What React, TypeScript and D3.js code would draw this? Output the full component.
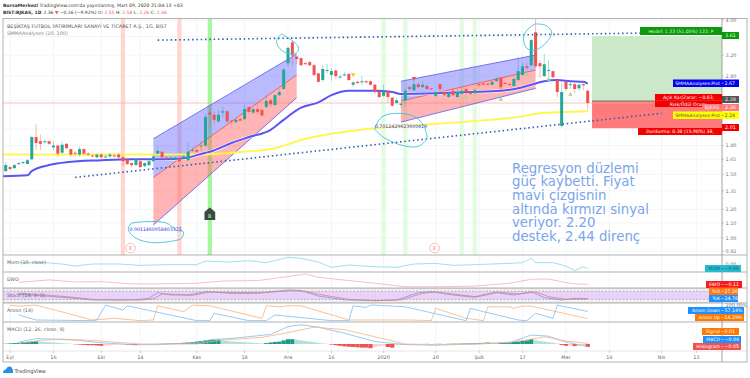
import React from "react";
import * as d3 from "d3";

// ---------- candles (bar index = array position) ----------
const opens = [1.53,1.57,1.56,1.60,1.61,1.60,1.65,1.90,1.85,1.84,1.85,1.78,1.80,1.72,1.82,1.76,1.72,1.70,1.76,1.71,1.69,1.67,1.70,1.67,1.68,1.69,1.70,1.67,1.65,1.61,1.59,1.63,1.58,1.59,1.63,1.71,1.73,1.67,1.65,1.65,1.66,1.66,1.64,1.74,1.75,1.79,1.80,2.22,2.19,2.10,2.22,2.24,2.11,2.09,2.13,2.13,2.30,2.22,2.27,2.26,2.30,2.40,2.33,2.48,2.58,3.04,3.47,3.17,3.14,3.04,3.06,3.00,2.85,2.73,2.90,2.82,2.90,2.78,2.82,2.84,2.65,2.70,2.70,2.71,2.71,2.65,2.53,2.47,2.55,2.44,2.36,2.33,2.40,2.61,2.56,2.66,2.61,2.63,2.59,2.47,2.63,2.53,2.45,2.55,2.45,2.50,2.58,2.53,2.51,2.66,2.67,2.67,2.65,2.71,2.77,2.68,2.66,2.63,2.73,2.82,2.98,3.00,3.70,3.04,2.80,2.90,2.89,2.73,2.04,2.70,2.65,2.66,2.59,2.66,2.55];
const closes = [1.59,1.55,1.59,1.61,1.62,1.64,1.90,1.83,1.82,1.85,1.82,1.80,1.71,1.81,1.77,1.70,1.71,1.76,1.71,1.70,1.685,1.70,1.67,1.68,1.70,1.68,1.67,1.63,1.60,1.59,1.65,1.57,1.61,1.63,1.68,1.74,1.67,1.65,1.67,1.67,1.63,1.68,1.73,1.75,1.73,1.80,2.16,2.19,2.12,2.19,2.24,2.10,2.10,2.12,2.11,2.27,2.23,2.27,2.23,2.18,2.39,2.34,2.48,2.53,2.92,3.35,3.19,3.12,3.00,3.03,3.00,2.82,2.70,2.93,2.91,2.89,2.80,2.79,2.83,2.73,2.69,2.68,2.71,2.69,2.65,2.53,2.45,2.55,2.45,2.32,2.40,2.35,2.55,2.58,2.66,2.61,2.65,2.58,2.58,2.53,2.58,2.48,2.51,2.48,2.53,2.55,2.53,2.50,2.56,2.64,2.65,2.65,2.70,2.75,2.61,2.67,2.65,2.75,2.89,2.98,2.95,3.52,2.98,2.98,3.02,2.91,2.78,2.53,2.53,2.58,2.66,2.58,2.65,2.64,2.36];
const highs = [1.62,1.58,1.60,1.62,1.63,1.65,1.92,2.06,1.93,1.87,1.86,1.85,1.81,1.85,1.83,1.76,1.74,1.79,1.77,1.73,1.70,1.71,1.71,1.70,1.72,1.71,1.72,1.70,1.66,1.62,1.66,1.64,1.62,1.64,1.70,1.79,1.74,1.68,1.68,1.68,1.67,1.70,1.84,1.78,1.77,1.85,2.20,2.33,2.24,2.26,2.30,2.25,2.12,2.14,2.15,2.33,2.31,2.29,2.35,2.27,2.48,2.42,2.50,2.58,2.95,3.38,3.52,3.18,3.15,3.06,3.08,3.02,2.86,3.00,3.03,2.95,2.92,2.83,2.87,2.85,2.71,2.72,2.80,2.73,2.72,2.66,2.54,2.65,2.56,2.45,2.44,2.36,2.60,2.63,2.72,2.68,2.72,2.65,2.60,2.55,2.64,2.54,2.53,2.58,2.58,2.60,2.60,2.54,2.58,2.67,2.69,2.68,2.72,2.78,2.78,2.70,2.68,2.78,3.16,3.05,3.05,3.54,4.05,3.10,3.22,3.10,2.90,2.75,2.68,2.71,2.70,2.68,2.66,2.67,2.58];
const lows = [1.52,1.54,1.55,1.59,1.60,1.60,1.64,1.75,1.75,1.82,1.81,1.75,1.68,1.71,1.76,1.67,1.68,1.68,1.70,1.68,1.67,1.66,1.65,1.66,1.67,1.67,1.66,1.58,1.59,1.57,1.58,1.56,1.57,1.58,1.62,1.70,1.66,1.64,1.64,1.64,1.62,1.65,1.63,1.73,1.72,1.74,1.78,2.00,2.06,2.08,2.15,2.08,2.05,2.07,2.10,2.12,2.20,2.20,2.20,2.16,2.28,2.30,2.31,2.47,2.57,2.98,3.00,3.02,2.98,3.00,2.98,2.80,2.69,2.70,2.85,2.72,2.74,2.76,2.80,2.72,2.62,2.66,2.65,2.68,2.64,2.50,2.43,2.45,2.36,2.30,2.34,2.29,2.30,2.55,2.54,2.59,2.60,2.56,2.56,2.45,2.53,2.47,2.44,2.47,2.44,2.49,2.48,2.48,2.50,2.62,2.64,2.64,2.64,2.70,2.53,2.65,2.64,2.61,2.71,2.80,2.92,2.98,2.95,2.77,2.78,2.78,2.76,2.45,2.02,2.55,2.58,2.51,2.55,2.56,2.26];

// ---------- SMMA lines ----------
const blueBars = [-1,5,6,10,14,22,29,36,41,46,47,52,56,61,64,68,72,75,79,85,89,91,99,107,114,118,121,124,127,130,133,134];
const blueVals = [1.48,1.49,1.53,1.59,1.62,1.64,1.65,1.65,1.66,1.72,1.73,1.83,1.90,1.99,2.12,2.29,2.37,2.48,2.55,2.55,2.53,2.50,2.51,2.53,2.55,2.59,2.65,2.71,2.73,2.71,2.70,2.67];
const yellowBars = [-1,29,45,52,62,69,75,85,95,107,118,123,134];
const yellowVals = [1.70,1.70,1.70,1.72,1.77,1.88,1.94,2.01,2.05,2.10,2.16,2.21,2.24];

// ---------- regression channels: first bar, last bar, then [left,right] prices ----------
const channelBars = [[34,67],[91,122]];
const channelTop = [[1.88,3.22],[2.71,3.20]];
const channelMid = [[1.47,2.82],[2.39,2.91]];
const channelBottom = [[1.086,2.44],[2.09,2.59]];

// ---------- trendlines ----------
const topTrendBars = [35,146];
const topTrendVals = [3.52,3.68];
const lowTrendBars = [16,151];
const lowTrendVals = [1.47,2.21];

// ---------- freehand loops ----------
const loopABars = [63.5,65.5,67.4,67,64.7,62.8,62.4,63.5];
const loopAVals = [3.66,3.54,3.37,3.25,3.24,3.37,3.52,3.66];
const loopBBars = [29,32.5,37,39.4,40.9,40.5,37,32.5,29.4,28.2,29];
const loopBVals = [1.10,1.11,1.10,1.05,1.04,1.0,0.975,0.975,1.01,1.06,1.10];
const loopCBars = [84.9,87.2,91.5,94.9,97,96.6,96.6,94.3,90.3,86.6,84.9];
const loopCVals = [2.0,1.89,1.80,1.79,1.89,1.99,2.01,2.16,2.21,2.16,2.0];
const loopDBars = [121.9,124.2,125.7,124.6,121.9,120,119.2,120,121.9];
const loopDVals = [3.90,3.87,3.71,3.48,3.30,3.34,3.56,3.75,3.90];

// ---------- background signal bands ----------
const redBands = [27,40];
const strongGreenBands = [47];
const paleGreenBands = [87,92,105,108];

// ---------- triangles ----------
const upMarkBars = [106,114,120,125,130];
const upMarkVals = [2.45,2.42,2.84,2.75,2.50];
const downRedBars = [94,100];
const downRedVals = [2.75,2.63];
const downYellowBars = [80];
const downYellowVals = [2.82];

// ---------- axes ----------
const priceGrid = [4,3.6,3.2,2.8,2.4,2.0,1.8,1.65,1.5,1.35,1.2,1.1,1,0.92];
const priceTicks = ["4.00","3.20","2.80","1.80","1.65","1.50","1.35","1.20","1.10","1.00","0.92"];
const timeBars = [1,11,22,31,44,55,65,75,87,99,109,119,129,139,151,159];
const timeLabels = ["Eyl","16","Eki","14","Kas","18","Ara","16","2020","20","Şub","17","Mar","16","Nis","13"];

// ---------- sub panes ----------
const momBars = [-1,3,9,13,16,20,26,31,37,44,46,51,56,60,65,68,72,75,79,85,90,94,99,103,108,116,119,121,122,126,129,131,133,134];
const momVals = [.19,.19,.19,0,-.28,0,0,-.19,-.09,-.09,.42,.28,.47,.19,.94,.8,.28,-.47,-.14,-.38,-.47,0,.09,-.19,-.09,.09,.19,.8,.19,.19,-.28,-.94,-.38,-.66];
const ewoBars = [-1,3,10,16,22,29,35,44,50,58,65,69,72,79,85,92,100,108,116,121,125,129,131,134];
const ewoVals = [-.02,-.02,.09,0,.01,-.09,-.09,-.06,.04,.06,.24,.36,.21,.06,-.06,-.22,-.22,-.19,-.06,.12,.13,-.03,-.09,-.11];
const kBars = [-1,3,9,14,20,26,31,33,35,38,42,46,52,58,65,68,72,78,85,90,95,98,103,108,113,117,121,124,128,131,134];
const kVals = [64,57,45.7,34,18,18,22.4,29.4,68.5,52.4,52.4,75.4,64,64,87,82.6,45.7,18,13.4,18,68.5,75.4,52.4,36.5,68.5,52.4,75.4,34,18,29.4,24.76];
const dBars = [-1,3,9,14,20,26,31,34,36,39,43,47,53,59,66,69,73,79,85,91,96,99,103,108,113,118,122,125,129,132,134];
const dVals = [68.5,64,52.4,41,22.4,18,18,25,59.3,57,50,73,68.5,68.5,82.6,78,52.4,22.4,13.4,18,64,73,59.3,41,73,59.3,73,41,22.4,25,27.2];
const upBars = [-1,1,3,7,20,25,31,34,35,41,43,47,59,60,63,65,68,79,85,88,93,98,99,106,110,111,116,117,119,121,134];
const upVals = [91,95,89,95,6,16,2,6,91,56,95,91,16,91,85,91,91,6,6,6,6,2,76,16,2,85,85,76,89,89,14.29];
const downBars = [-1,3,7,20,21,23,27,28,44,47,48,56,60,62,75,79,80,83,84,85,92,106,107,110,118,120,122,126,127,134];
const downVals = [46,36,6,2,6,95,66,91,2,2,46,2,2,36,2,2,91,81,95,95,85,2,76,56,6,2,46,16,95,57.14];
const macdBars = [-1,3,7,12,17,22,29,35,44,47,53,61,65,68,72,78,85,92,99,108,116,121,125,129,134];
const macdVals = [0,.03,.09,.08,.06,.02,-.01,-.01,.02,.07,.10,.16,.29,.32,.28,.18,.04,-.01,-.02,0,.02,.15,.13,.03,-.04];
const signalBars = [-1,3,8,13,20,25,31,37,44,49,59,65,71,78,85,92,99,108,116,121,124,129,134];
const signalVals = [0,.01,.06,.08,.06,.03,0,0,0,.06,.11,.19,.28,.24,.12,0,-.01,0,.03,.08,.12,.05,.01];
const histVals = [.5,1,1.5,2,3,3.5,4,4.5,4,3.5,3,2.5,2,1.5,1,.5,-.5,-1,-1.5,-2,-2,-2.5,-3,-2.5,-2,-1.5,-1,-.5,-1,-1.5,-2,-1.5,-1,-.5,-.3,.2,.4,.6,.8,1,1.5,2,2.5,3,4,5,6,6.5,7,7.5,6,5,4.5,4,3.5,3,2.5,2,1.5,1,1.5,2.5,3.5,4,6,8,8,7,6,5,4,3,2,1,.5,-1,-2,-3,-4,-4.5,-5,-5.5,-6,-6,-7,-5,-4,-3,-5,-6,-2,-1.5,-1,-.7,-.5,-.3,-.2,.2,-.2,.2,.3,-.3,.3,.5,.5,.7,.8,1,1.2,1.5,2,2.5,2,1.5,2,2.5,3,3.5,4,5,6,8,6,5,4,3,2,1,-1.5,-3,-2.5,-3.5,-3,-2.5,-5];

// ---------- text ----------
const headerAuthor = "BorsaMerkezi";
const headerRest = " TradingView.com'da yayınlanmış, Mart 09, 2020 21:04:13 +03";
const titleText = "BEŞİKTAŞ FUTBOL YATIRIMLARI SANAYİ VE TİCARET A.Ş., 1G, BIST";
const noteLines = ["Regresyon düzlemi","güç kaybetti. Fiyat","mavi çizgisnin","altında kırmızı sinyal","veriyor. 2.20","destek, 2.44 direnç"];

const W = 750, H = 378;
const L = 3, R = 722, RR = 747, TOP = 18.5, BOT = 362;
const FONT = "'DejaVu Sans', sans-serif";
const RED = "#ef5350", GREEN = "#26a69a";

const x = d3.scaleLinear().domain([0, 134]).range([5.7, 587.7]);
const y = d3.scaleLog().domain([1, 4]).range([238, 20]);

const zip = (a: number[], b: number[]) => a.map((v, i) => [v, b[i]] as [number, number]);
const pricePath = (bars: number[], vals: number[], curve: any = d3.curveLinear) =>
  d3.line<[number, number]>().x(d => x(d[0])).y(d => y(d[1])).curve(curve)(zip(bars, vals)) || "";

const paneMom = d3.scaleLinear().domain([-1, 1.3]).range([271.1, 254.8]);
const paneEwo = d3.scaleLinear().domain([-.3, .5]).range([288.5, 270.9]);
const paneStoch = d3.scaleLinear().domain([0, 100]).range([302.6, 288.1]);
const paneAroon = d3.scaleLinear().domain([0, 100]).range([321, 304.3]);
const paneMacd = d3.scaleLinear().domain([-.1, .35]).range([350, 323]);
const sub = (bars: number[], vals: number[], s: any) =>
  d3.line<[number, number]>().x(d => x(d[0])).y(d => s(d[1])).defined(d => x(d[0]) >= L)(zip(bars, vals)) || "";

const sep = [255, 272, 288, 303, 322, 351];

function Box({ x0, x1, y0, y1, fill, text, color = "#fff", size = 4.9, anchor = "middle" }: any) {
  return (
    <g>
      <rect x={x0} y={y0} width={x1 - x0} height={y1 - y0} fill={fill} />
      <text x={anchor === "middle" ? (x0 + x1) / 2 : x0 + 2} y={(y0 + y1) / 2 + 1.8} fontSize={size} fill={color} textAnchor={anchor}>{text}</text>
    </g>
  );
}

function Label({ x0, x1, y0, y1, fill, name, val, color = "#fff" }: any) {
  return (
    <g>
      <rect x={x0} y={y0} width={x1 - x0} height={y1 - y0} fill={fill} />
      <text x={720} y={y0 + 5.4} fontSize={4.6} fill={color} textAnchor="end">{name}</text>
      <line x1={721.5} x2={723.5} y1={(y0 + y1) / 2} y2={(y0 + y1) / 2} stroke={color} strokeWidth={.5} />
      <text x={724.5} y={y0 + 5.4} fontSize={4.7} fill={color}>{val}</text>
    </g>
  );
}

export default function App() {
  const histBase = paneMacd(0);
  const bars = opens.map((o, i) => ({ i, o, c: closes[i], h: highs[i], l: lows[i] }));
  const slot = x(1) - x(0);
  const tri = (cx: number, cy: number, up: boolean) => {
    const s = up ? -1 : 1;
    return `M${cx - 2.2},${cy - s * 1.8}L${cx + 2.2},${cy - s * 1.8}L${cx},${cy + s * 2}Z`;
  };
  return (
    <svg width={W} height={H} viewBox={`0 0 ${W} ${H}`} style={{ position: "absolute", left: 0, top: 0, background: "#fff" }} fontFamily={FONT}>
      <defs>
        <clipPath id="main"><rect x={L} y={TOP} width={R - L} height={255 - TOP} /></clipPath>
      </defs>

      {/* header */}
      <text x={3} y={7} fontSize={4.6} fill="#333"><tspan fontWeight="bold">{headerAuthor}</tspan>{headerRest}</text>
      <text x={3} y={14} fontSize={4.5} fill="#333">
        <tspan fontWeight="bold">BIST:BJKAS, 1D</tspan>
        <tspan dx={2}>2.36 </tspan>
        <tspan fill={RED}>▼ </tspan>
        <tspan>−0.26 (−9.92%) O: </tspan><tspan fill={RED}>2.55</tspan>
        <tspan> H: </tspan><tspan fill={RED}>2.58</tspan>
        <tspan> L: </tspan><tspan fill={RED}>2.26</tspan>
        <tspan> C: </tspan><tspan fill={RED}>2.36</tspan>
      </text>

      {/* grids */}
      {priceGrid.map(p => <line key={p} x1={L} x2={R} y1={y(p)} y2={y(p)} stroke="#edf2f7" strokeWidth={.8} />)}
      {timeBars.map(b => <line key={b} x1={x(b)} x2={x(b)} y1={TOP} y2={351} stroke="#edf2f7" strokeWidth={.8} />)}

      {/* signal bands */}
      <g clipPath="url(#main)">
        {redBands.map(b => <rect key={b} x={x(b) - slot / 2} y={TOP} width={slot} height={255 - TOP} fill="#ffd6d0" />)}
        {strongGreenBands.map(b => <rect key={b} x={x(b) - slot / 2} y={TOP} width={slot} height={255 - TOP} fill="#a6f5a0" />)}
        {paleGreenBands.map(b => <rect key={b} x={x(b) - slot / 2} y={TOP} width={slot} height={255 - TOP} fill="#e3fbe1" />)}

        {/* position tool */}
        <rect x={x(135)} y={y(3.61)} width={R - x(135)} height={y(2.39) - y(3.61)} fill="#cbe9c9" />
        <rect x={x(135)} y={y(2.39)} width={R - x(135)} height={y(2.01) - y(2.39)} fill="#ff7b7b" />
        <line x1={x(135)} x2={R} y1={y(2.39)} y2={y(2.39)} stroke="#666" strokeWidth={.8} />

        <line x1={L} x2={R} y1={y(2.36)} y2={y(2.36)} stroke="#f7a6a6" strokeWidth={.7} />

        {/* channels */}
        {channelBars.map((cb, k) => {
          const [a, b] = cb.map(v => x(v));
          const poly = (u: number[], v: number[]) => `M${a},${y(u[0])}L${b},${y(u[1])}L${b},${y(v[1])}L${a},${y(v[0])}Z`;
          return (
            <g key={k}>
              <path d={poly(channelTop[k], channelMid[k])} fill="#5a5aff" fillOpacity={.42} />
              <path d={poly(channelMid[k], channelBottom[k])} fill="#ff5a5a" fillOpacity={.45} />
              <line x1={a} x2={b} y1={y(channelTop[k][0])} y2={y(channelTop[k][1])} stroke="#5a5af0" strokeWidth={.8} />
              <line x1={a} x2={b} y1={y(channelMid[k][0])} y2={y(channelMid[k][1])} stroke="#f04a4a" strokeWidth={.8} />
              <line x1={a} x2={b} y1={y(channelBottom[k][0])} y2={y(channelBottom[k][1])} stroke="#5a5af0" strokeWidth={.8} />
            </g>
          );
        })}

        {/* SMMA */}
        <path d={pricePath(yellowBars, yellowVals, d3.curveMonotoneX)} fill="none" stroke="#fff650" strokeWidth={1.9} />
        <path d={pricePath(blueBars, blueVals, d3.curveMonotoneX)} fill="none" stroke="#fff" strokeOpacity={.85} strokeWidth={3.2} />
        <path d={pricePath(blueBars, blueVals, d3.curveMonotoneX)} fill="none" stroke="#5a54f2" strokeWidth={2} />

        {/* candles */}
        {bars.map(b => {
          const col = b.c >= b.o ? GREEN : RED;
          const top = y(Math.max(b.o, b.c)), bot = y(Math.min(b.o, b.c));
          return (
            <g key={b.i}>
              <line x1={x(b.i)} x2={x(b.i)} y1={y(b.h)} y2={y(b.l)} stroke={col} strokeOpacity={.6} strokeWidth={.7} />
              <rect x={x(b.i) - 1.5} y={top} width={3} height={Math.max(bot - top, 1)} fill={col} />
            </g>
          );
        })}

        {/* trendlines */}
        <path d={pricePath(topTrendBars, topTrendVals)} stroke="#2f5fa8" strokeWidth={1.6} strokeDasharray="1.5 2.8" fill="none" />
        <path d={pricePath(lowTrendBars, lowTrendVals)} stroke="#2f5fa8" strokeWidth={1.6} strokeDasharray="1.5 2.8" fill="none" />

        {/* triangles */}
        {upMarkBars.map((b, i) => <path key={b} d={tri(x(b), y(upMarkVals[i]), true)} fill="#a5d68a" />)}
        {downRedBars.map((b, i) => <path key={b} d={tri(x(b), y(downRedVals[i]), false)} fill="#ef5350" />)}
        {downYellowBars.map((b, i) => <path key={b} d={tri(x(b), y(downYellowVals[i]), false)} fill="#f5c518" />)}

        {/* loops */}
        {[[loopABars, loopAVals], [loopBBars, loopBVals], [loopCBars, loopCVals], [loopDBars, loopDVals]].map((l, i) => (
          <path key={i} d={pricePath(l[0], l[1], d3.curveCatmullRom)} fill="none" stroke="#3cc3da" strokeWidth={.9} />
        ))}
        <text x={x(28.5)} y={y(1.045)} fontSize={4.7} fill="#3a3ae0">0.9011460958403375</text>
        <text x={x(85)} y={y(2.01)} fontSize={4.7} fill="#3a3ae0">0.7012429623600419</text>

        {/* earnings + flag */}
        {[29, 99].map(b => (
          <g key={b}>
            <circle cx={x(b) - 1} cy={248} r={4.8} fill="#fff" stroke="#f7b5b5" strokeWidth={.9} />
            <text x={x(b) - 1} y={249.8} fontSize={5} fill="#f08a8a" textAnchor="middle">E</text>
          </g>
        ))}
        <path d={`M${x(47) - 5.4},212L${x(47)},207.5L${x(47) + 5.4},212L${x(47) + 5.4},220L${x(47) - 5.4},220Z`} fill="#3d4a3f" />
        <text x={x(47)} y={217.5} fontSize={5} fill="#9fb" textAnchor="middle">B</text>

        {/* note */}
        <g fontSize={13.3} fill="#7aa5ea">
          {noteLines.map((t, i) => <text key={i} x={512} y={172.5 + i * 13.7}>{t}</text>)}
        </g>
      </g>

      {/* title */}
      <text x={7} y={27.5} fontSize={4.9} fill="#555">{titleText}</text>
      <text x={7} y={34.5} fontSize={4.9} fill="#888">SMMAAnalyses (20, 100)</text>

      {/* sub panes */}
      <rect x={L} y={paneStoch(80)} width={R - L} height={paneStoch(20) - paneStoch(80)} fill="#e8d2fa" />
      <line x1={L} x2={R} y1={paneStoch(80)} y2={paneStoch(80)} stroke="#777" strokeWidth={.5} strokeDasharray="2 1.5" />
      <line x1={L} x2={R} y1={paneStoch(20)} y2={paneStoch(20)} stroke="#777" strokeWidth={.5} strokeDasharray="2 1.5" />
      <rect x={L} y={301.5} width={R - L} height={1.5} fill="#ddd" />
      <rect x={L} y={288} width={R - L} height={1.5} fill="#ddd" />

      {histVals.map((v, i) => {
        const val = v / 100;
        const prev = i ? histVals[i - 1] : 0;
        const col = v >= 0 ? (v >= prev ? "#1f9a88" : "#b2dfdb") : (v <= prev ? "#ef5350" : "#ffcdd2");
        const yy = paneMacd(val);
        return <rect key={i} x={x(i) - slot / 2} y={Math.min(yy, histBase)} width={slot} height={Math.abs(yy - histBase)} fill={col} />;
      })}

      <g fill="none" strokeWidth={.8}>
        <path d={sub(momBars, momVals, paneMom)} stroke="#80dbe8" />
        <path d={sub(ewoBars, ewoVals, paneEwo)} stroke="#f6b0b0" />
        <path d={sub(kBars, kVals, paneStoch)} stroke="#6a9cf0" />
        <path d={sub(dBars, dVals, paneStoch)} stroke="#ef7b6a" />
        <path d={sub(upBars, upVals, paneAroon)} stroke="#f7b27a" />
        <path d={sub(downBars, downVals, paneAroon)} stroke="#7cbcf5" />
        <path d={sub(macdBars, macdVals, paneMacd)} stroke="#7cbcf5" />
        <path d={sub(signalBars, signalVals, paneMacd)} stroke="#f7b27a" />
      </g>

      <g fontSize={4.9} fill="#666">
        <text x={7} y={264}>Mom (10, close)</text>
        <text x={7} y={281}>EWO</text>
        <text x={7} y={297}>Stoch (14, 3, 3)</text>
        <text x={7} y={312}>Aroon (14)</text>
        <text x={7} y={331}>MACD (12, 26, close, 9)</text>
      </g>

      {/* frame + separators */}
      {sep.map(s => <line key={s} x1={L} x2={RR} y1={s} y2={s} stroke={s === 351 ? "#e3e3e3" : "#a8a8a8"} strokeWidth={.9} />)}
      <rect x={L} y={TOP} width={RR - L} height={BOT - TOP} fill="none" stroke="#aaa" strokeWidth={.9} />
      <line x1={R} x2={R} y1={TOP} y2={BOT} stroke="#999" strokeWidth={.9} />

      {/* price axis */}
      <g fontSize={4.9} fill="#777">
        {priceTicks.map(t => (
          <g key={t}>
            <line x1={R} x2={R + 2} y1={y(+t)} y2={y(+t)} stroke="#999" strokeWidth={.5} />
            <text x={R + 3.5} y={y(+t) + 1.8}>{t}</text>
          </g>
        ))}
        <text x={R + 3.5} y={265.5}>0.00</text>
        <text x={R + 3.5} y={306.5}>100.00%</text>
      </g>

      {/* time axis */}
      <g fontSize={4.9} fill="#666" textAnchor="middle">
        {timeBars.map((b, i) => (
          <g key={b}>
            <line x1={x(b)} x2={x(b)} y1={351} y2={353} stroke="#999" strokeWidth={.5} />
            <text x={x(b)} y={358.5}>{timeLabels[i]}</text>
          </g>
        ))}
      </g>

      {/* position labels */}
      <Box x0={640} x1={R} y0={27} y1={35} fill="#0a9a0a" text="Hedef: 1.22 (51.05%) 122, P" color="#d8f5d8" size={4.6} />
      <Box x0={R} x1={739} y0={32} y1={39} fill="#0a9a0a" text="3.61" color="#e8ffe8" />
      <Box x0={655} x1={R} y0={94} y1={100.5} fill="#f40000" text="Açık Kar/Zarar: −0.03," size={4.6} />
      <Box x0={655} x1={R} y0={100.5} y1={107} fill="#f40000" text="Risk/Ödül Oranı:" size={4.6} />
      <Box x0={R} x1={739} y0={96} y1={103} fill="#555" text="2.39" color="#eee" />
      <Box x0={702} x1={R} y0={104} y1={111} fill="#ff7a7a" text="BJKAS" color="#fff0f0" />
      <Box x0={R} x1={739} y0={104} y1={111} fill="#ff7a7a" text="2.36" color="#fff" />
      <Label x0={673} x1={739} y0={79.5} y1={87} fill="#0000f0" name="SMMAAnalyses:Plot" val="2.67" />
      <Label x0={673} x1={739} y0={111.5} y1={119} fill="#ffff00" name="SMMAAnalyses:Plot" val="2.24" color="#555" />
      <Box x0={638} x1={R} y0={128} y1={135} fill="#f40000" text="Durdurma: 0.38 (15.90%) 38," size={4.6} />
      <Box x0={R} x1={739} y0={124} y1={131} fill="#f40000" text="2.01" />

      {/* indicator labels */}
      <Label x0={705} x1={741} y0={265} y1={272} fill="#26bcd0" name="MOM" val="−0.66" color="#145f68" />
      <Label x0={706} x1={742} y0={281} y1={288} fill="#f81a1a" name="EWO" val="−0.11" />
      <Label x0={709} x1={738} y0={287.5} y1={295} fill="#ff7a1a" name="%D" val="27.20" />
      <Label x0={709} x1={738} y0={295} y1={302} fill="#1e90ff" name="%K" val="24.76" />
      <Label x0={688} x1={744} y0={307} y1={314} fill="#1e90ff" name="Aroon Down" val="57.14%" />
      <Label x0={695} x1={744} y0={314} y1={321} fill="#ff7a00" name="Aroon Up" val="14.29%" />
      <Label x0={702} x1={739} y0={328} y1={335} fill="#ff7a00" name="Signal" val="0.01" />
      <Label x0={703} x1={741} y0={336} y1={343} fill="#1e90ff" name="MACD" val="−0.04" />
      <Label x0={693} x1={741} y0={343} y1={350} fill="#ef5350" name="Histogram" val="−0.05" />

      {/* logo */}
      <path d="M3,373 Q3,369.5 6,369.5 Q7,366.5 9.5,366.5 Q12,366.5 12.5,369.5 Q13.5,370 13,373Z" fill="#2a8fe8" />
      <text x={14.5} y={372.5} fontSize={5.2} fill="#444">TradingView</text>
    </svg>
  );
}
